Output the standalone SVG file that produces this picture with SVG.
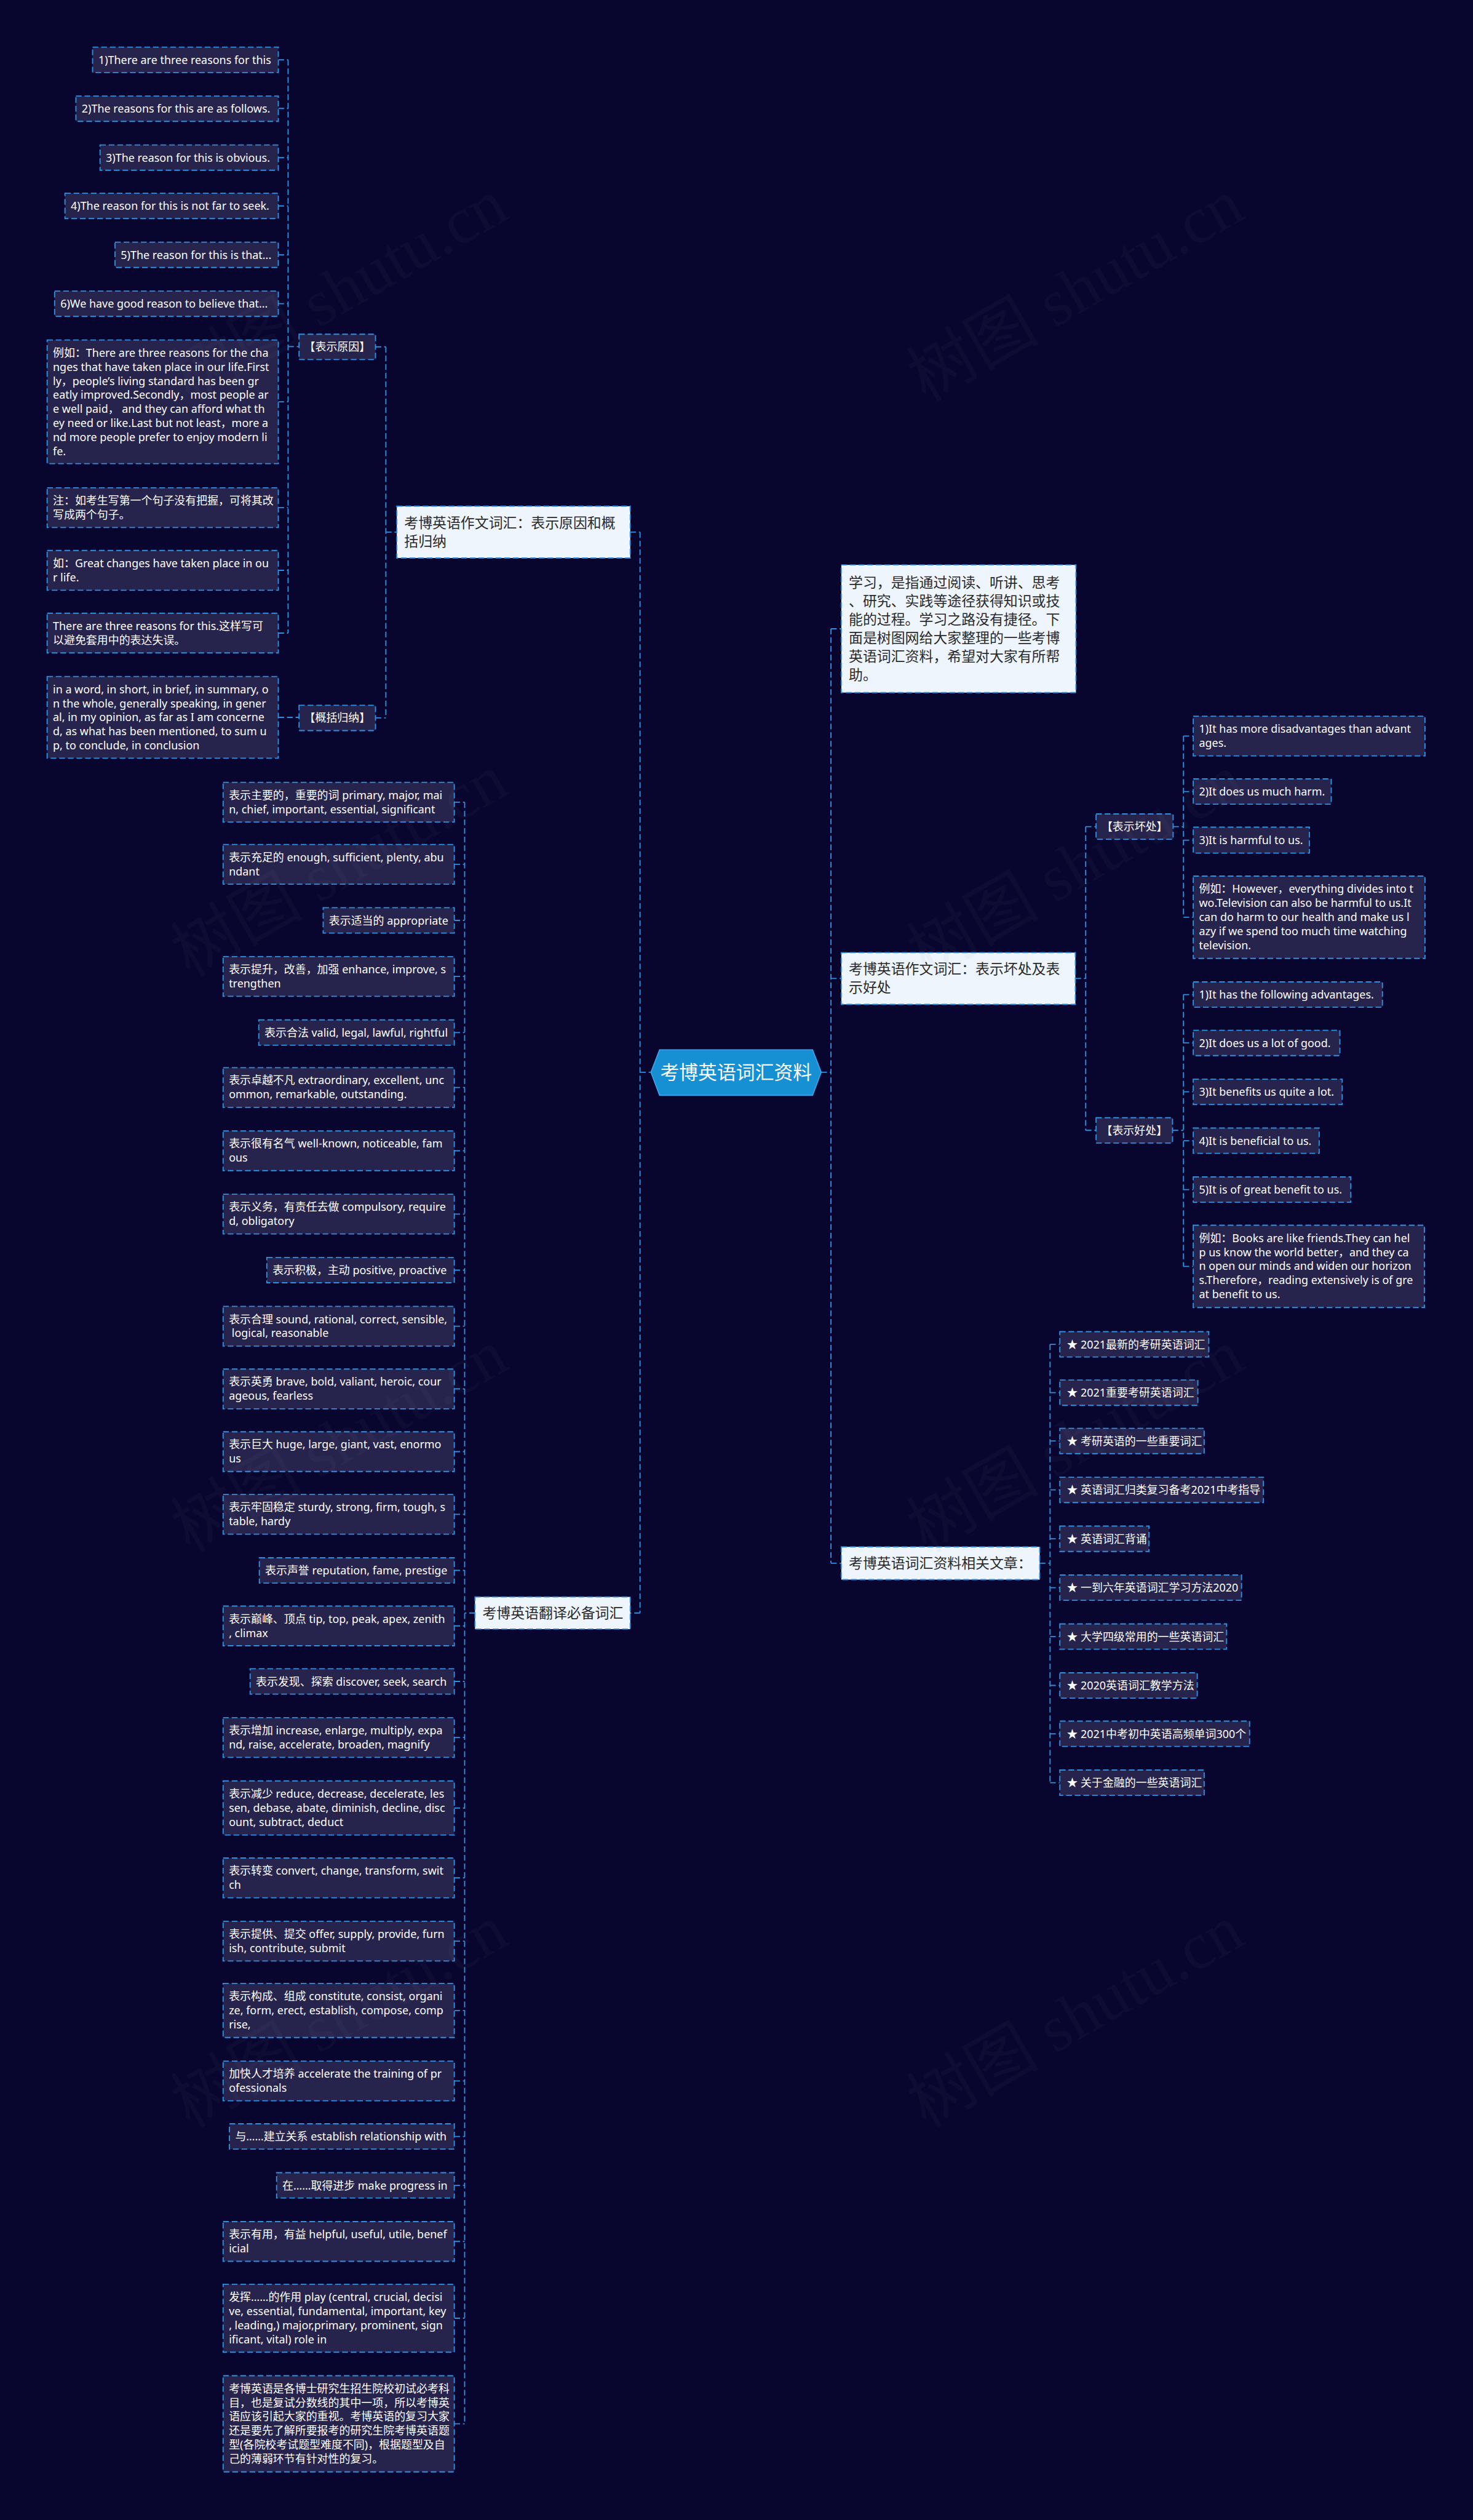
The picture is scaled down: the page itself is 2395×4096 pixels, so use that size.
<svg xmlns="http://www.w3.org/2000/svg" width="2395" height="4096" viewBox="0 0 2395 4096">
<style>
.lf{fill:#26234d;stroke:#2f8fe0;stroke-width:2;stroke-dasharray:10 5}
.br{fill:#eef5fd;stroke:#2f8fe0;stroke-width:2;stroke-dasharray:10 5}
.t{font-family:"Noto Sans","Noto Sans CJK SC",sans-serif;font-size:19.2px;fill:#ffffff}
.bt{font-family:"Noto Sans","Noto Sans CJK SC",sans-serif;font-size:24.5px;fill:#2a2a2a}
.ct{font-family:"Noto Sans","Noto Sans CJK SC",sans-serif;font-size:33px;fill:#ffffff}
.cn path{fill:none;stroke:#2f8fe0;stroke-width:2;stroke-dasharray:10 5}
.wm{font-family:"Liberation Serif","Noto Sans CJK SC",serif;font-size:115px;fill:#8a8aa0;opacity:0.05}
</style>
<rect x="0" y="0" width="2395" height="4096" fill="#08052e"/>
<g transform="scale(0.935)">
<g id="connectors" class="cn">
<path d="M484,104H501M484,188.5H501M484,274H501M484,358H501M484,443H501M484,528H501M484,698.5H501M484,882.5H501M484,991.5H501M484,1100.5H501M501,104V1100.5M501,602.5H520"/>
<path d="M484,1247H520"/>
<path d="M653,603H671M653,1248H671M671,603V1248M671,925H690"/>
<path d="M1096,925H1113M1113,925V2804M1113,1864H1132M1113,2804H1096"/>
<path d="M826,2804H808M808,1394.5V4213.5"/>
<path d="M790,1394.5H808M790,1502.5H808M790,1600H808M790,1697.5H808M790,1795H808M790,1890.5H808M790,2000.5H808M790,2110.5H808M790,2208H808M790,2305.5H808M790,2414.5H808M790,2523.5H808M790,2632.5H808M790,2730H808M790,2826.5H808M790,2923H808M790,3020.5H808M790,3143H808M790,3264.5H808M790,3374.5H808M790,3495H808M790,3617.5H808M790,3714H808M790,3799H808M790,3896.5H808M790,4030H808M790,4213.5H808"/>
<path d="M1428,1864H1445M1445,1093V2717.5M1445,1093H1463M1445,1701H1463M1445,2717.5H1463"/>
<path d="M1870,1701H1888M1888,1437V1965M1888,1437H1906M1888,1965H1906"/>
<path d="M2040,1437H2058M2058,1279.5V1594.5M2058,1279.5H2075M2058,1376H2075M2058,1460.5H2075M2058,1594.5H2075"/>
<path d="M2039,1965H2058M2058,1729V2201.5M2058,1729H2075M2058,1813H2075M2058,1898H2075M2058,1983H2075M2058,2068H2075M2058,2201.5H2075"/>
<path d="M1808,2717.5H1826M1826,2337V3099M1826,2337H1843M1826,2421H1843M1826,2505H1843M1826,2590H1843M1826,2675H1843M1826,2760H1843M1826,2845H1843M1826,2930H1843M1826,3014H1843M1826,3099H1843"/>
</g>

<g id="center">
<polygon points="1132,1864 1147,1825 1413,1825 1428,1864 1413,1904 1147,1904" fill="#168fd3" stroke="#3aa0e8" stroke-width="2"/>
<text class="ct" x="1280" y="1875.5" text-anchor="middle">考博英语词汇资料</text>
</g>

<g id="branch1">
<rect class="br" x="690" y="880" width="406" height="90"/>
<text class="bt" x="703" y="917.5">考博英语作文词汇：表示原因和概<tspan x="703" dy="32">括归纳</tspan></text>
</g>
<g id="k1"><rect class="lf" x="520" y="581" width="133" height="44"/><text class="t" x="586.5" y="610" text-anchor="middle">【表示原因】</text></g>
<g id="k2"><rect class="lf" x="520" y="1226" width="133" height="44"/><text class="t" x="586.5" y="1255" text-anchor="middle">【概括归纳】</text></g>

<g id="l1"><rect class="lf" x="161" y="82" width="323" height="44"/><text class="t" x="171" y="111">1)There are three reasons for this</text></g>
<g id="l2"><rect class="lf" x="132" y="167" width="352" height="44"/><text class="t" x="142" y="196">2)The reasons for this are as follows.</text></g>
<g id="l3"><rect class="lf" x="174" y="252" width="310" height="44"/><text class="t" x="184" y="281">3)The reason for this is obvious.</text></g>
<g id="l4"><rect class="lf" x="113" y="336" width="371" height="44"/><text class="t" x="123" y="365">4)The reason for this is not far to seek.</text></g>
<g id="l5"><rect class="lf" x="200" y="421" width="284" height="44"/><text class="t" x="210" y="450">5)The reason for this is that...</text></g>
<g id="l6"><rect class="lf" x="95" y="506" width="389" height="44"/><text class="t" x="105" y="535">6)We have good reason to believe that...</text></g>
<g id="l7"><rect class="lf" x="82" y="591" width="402" height="215"/><text class="t" x="92" y="620">例如：There are three reasons for the cha<tspan x="92" dy="24.5">nges that have taken place in our life.First</tspan><tspan x="92" dy="24.5">ly，people’s living standard has been gr</tspan><tspan x="92" dy="24.5">eatly improved.Secondly，most people ar</tspan><tspan x="92" dy="24.5">e well paid， and they can afford what th</tspan><tspan x="92" dy="24.5">ey need or like.Last but not least，more a</tspan><tspan x="92" dy="24.5">nd more people prefer to enjoy modern li</tspan><tspan x="92" dy="24.5">fe.</tspan></text></g>
<g id="l8"><rect class="lf" x="82" y="848" width="402" height="69"/><text class="t" x="92" y="877">注：如考生写第一个句子没有把握，可将其改<tspan x="92" dy="24.5">写成两个句子。</tspan></text></g>
<g id="l9"><rect class="lf" x="82" y="957" width="402" height="69"/><text class="t" x="92" y="986">如：Great changes have taken place in ou<tspan x="92" dy="24.5">r life.</tspan></text></g>
<g id="l10"><rect class="lf" x="82" y="1066" width="402" height="69"/><text class="t" x="92" y="1095">There are three reasons for this.这样写可<tspan x="92" dy="24.5">以避免套用中的表达失误。</tspan></text></g>
<g id="l11"><rect class="lf" x="82" y="1176" width="402" height="142"/><text class="t" x="92" y="1205">in a word, in short, in brief, in summary, o<tspan x="92" dy="24.5">n the whole, generally speaking, in gener</tspan><tspan x="92" dy="24.5">al, in my opinion, as far as I am concerne</tspan><tspan x="92" dy="24.5">d, as what has been mentioned, to sum u</tspan><tspan x="92" dy="24.5">p, to conclude, in conclusion</tspan></text></g>

<g id="branch4">
<rect class="br" x="826" y="2776" width="270" height="56"/>
<text class="bt" x="839" y="2812.5">考博英语翻译必备词汇</text>
</g>
<g id="m1"><rect class="lf" x="388" y="1360" width="402" height="69"/><text class="t" x="398" y="1389">表示主要的，重要的词 primary, major, mai<tspan x="398" dy="24.5">n, chief, important, essential, significant</tspan></text></g>
<g id="m2"><rect class="lf" x="388" y="1468" width="402" height="69"/><text class="t" x="398" y="1497">表示充足的 enough, sufficient, plenty, abu<tspan x="398" dy="24.5">ndant</tspan></text></g>
<g id="m3"><rect class="lf" x="562" y="1578" width="228" height="44"/><text class="t" x="572" y="1607">表示适当的 appropriate</text></g>
<g id="m4"><rect class="lf" x="388" y="1663" width="402" height="69"/><text class="t" x="398" y="1692">表示提升，改善，加强 enhance, improve, s<tspan x="398" dy="24.5">trengthen</tspan></text></g>
<g id="m5"><rect class="lf" x="450" y="1773" width="340" height="44"/><text class="t" x="460" y="1802">表示合法 valid, legal, lawful, rightful</text></g>
<g id="m6"><rect class="lf" x="388" y="1856" width="402" height="69"/><text class="t" x="398" y="1885">表示卓越不凡 extraordinary, excellent, unc<tspan x="398" dy="24.5">ommon, remarkable, outstanding.</tspan></text></g>
<g id="m7"><rect class="lf" x="388" y="1966" width="402" height="69"/><text class="t" x="398" y="1995">表示很有名气 well-known, noticeable, fam<tspan x="398" dy="24.5">ous</tspan></text></g>
<g id="m8"><rect class="lf" x="388" y="2076" width="402" height="69"/><text class="t" x="398" y="2105">表示义务，有责任去做 compulsory, require<tspan x="398" dy="24.5">d, obligatory</tspan></text></g>
<g id="m9"><rect class="lf" x="464" y="2186" width="326" height="44"/><text class="t" x="474" y="2215">表示积极，主动 positive, proactive</text></g>
<g id="m10"><rect class="lf" x="388" y="2271" width="402" height="69"/><text class="t" x="398" y="2300">表示合理 sound, rational, correct, sensible,<tspan x="398" dy="24.5"> logical, reasonable</tspan></text></g>
<g id="m11"><rect class="lf" x="388" y="2380" width="402" height="69"/><text class="t" x="398" y="2409">表示英勇 brave, bold, valiant, heroic, cour<tspan x="398" dy="24.5">ageous, fearless</tspan></text></g>
<g id="m12"><rect class="lf" x="388" y="2489" width="402" height="69"/><text class="t" x="398" y="2518">表示巨大 huge, large, giant, vast, enormo<tspan x="398" dy="24.5">us</tspan></text></g>
<g id="m13"><rect class="lf" x="388" y="2598" width="402" height="69"/><text class="t" x="398" y="2627">表示牢固稳定 sturdy, strong, firm, tough, s<tspan x="398" dy="24.5">table, hardy</tspan></text></g>
<g id="m14"><rect class="lf" x="451" y="2708" width="339" height="44"/><text class="t" x="461" y="2737">表示声誉 reputation, fame, prestige</text></g>
<g id="m15"><rect class="lf" x="388" y="2792" width="402" height="69"/><text class="t" x="398" y="2821">表示巅峰、顶点 tip, top, peak, apex, zenith<tspan x="398" dy="24.5">, climax</tspan></text></g>
<g id="m16"><rect class="lf" x="435" y="2901" width="355" height="44"/><text class="t" x="445" y="2930">表示发现、探索 discover, seek, search</text></g>
<g id="m17"><rect class="lf" x="388" y="2986" width="402" height="69"/><text class="t" x="398" y="3015">表示增加 increase, enlarge, multiply, expa<tspan x="398" dy="24.5">nd, raise, accelerate, broaden, magnify</tspan></text></g>
<g id="m18"><rect class="lf" x="388" y="3096" width="402" height="94"/><text class="t" x="398" y="3125">表示减少 reduce, decrease, decelerate, les<tspan x="398" dy="24.5">sen, debase, abate, diminish, decline, disc</tspan><tspan x="398" dy="24.5">ount, subtract, deduct</tspan></text></g>
<g id="m19"><rect class="lf" x="388" y="3230" width="402" height="69"/><text class="t" x="398" y="3259">表示转变 convert, change, transform, swit<tspan x="398" dy="24.5">ch</tspan></text></g>
<g id="m20"><rect class="lf" x="388" y="3340" width="402" height="69"/><text class="t" x="398" y="3369">表示提供、提交 offer, supply, provide, furn<tspan x="398" dy="24.5">ish, contribute, submit</tspan></text></g>
<g id="m21"><rect class="lf" x="388" y="3448" width="402" height="94"/><text class="t" x="398" y="3477">表示构成、组成 constitute, consist, organi<tspan x="398" dy="24.5">ze, form, erect, establish, compose, comp</tspan><tspan x="398" dy="24.5">rise,</tspan></text></g>
<g id="m22"><rect class="lf" x="388" y="3583" width="402" height="69"/><text class="t" x="398" y="3612">加快人才培养 accelerate the training of pr<tspan x="398" dy="24.5">ofessionals</tspan></text></g>
<g id="m23"><rect class="lf" x="399" y="3692" width="391" height="44"/><text class="t" x="409" y="3721">与……建立关系 establish relationship with</text></g>
<g id="m24"><rect class="lf" x="481" y="3777" width="309" height="44"/><text class="t" x="491" y="3806">在……取得进步 make progress in</text></g>
<g id="m25"><rect class="lf" x="388" y="3862" width="402" height="69"/><text class="t" x="398" y="3891">表示有用，有益 helpful, useful, utile, benef<tspan x="398" dy="24.5">icial</tspan></text></g>
<g id="m26"><rect class="lf" x="388" y="3971" width="402" height="118"/><text class="t" x="398" y="4000">发挥……的作用 play (central, crucial, decisi<tspan x="398" dy="24.5">ve, essential, fundamental, important, key</tspan><tspan x="398" dy="24.5">, leading,) major,primary, prominent, sign</tspan><tspan x="398" dy="24.5">ificant, vital) role in</tspan></text></g>
<g id="m27"><rect class="lf" x="388" y="4130" width="402" height="167"/><text class="t" x="398" y="4159">考博英语是各博士研究生招生院校初试必考科<tspan x="398" dy="24.5">目，也是复试分数线的其中一项，所以考博英</tspan><tspan x="398" dy="24.5">语应该引起大家的重视。考博英语的复习大家</tspan><tspan x="398" dy="24.5">还是要先了解所要报考的研究生院考博英语题</tspan><tspan x="398" dy="24.5">型(各院校考试题型难度不同)，根据题型及自</tspan><tspan x="398" dy="24.5">己的薄弱环节有针对性的复习。</tspan></text></g>

<g id="intro">
<rect class="br" x="1463" y="982" width="408" height="222"/>
<text class="bt" x="1476" y="1021.5">学习，是指通过阅读、听讲、思考<tspan x="1476" dy="32">、研究、实践等途径获得知识或技</tspan><tspan x="1476" dy="32">能的过程。学习之路没有捷径。下</tspan><tspan x="1476" dy="32">面是树图网给大家整理的一些考博</tspan><tspan x="1476" dy="32">英语词汇资料，希望对大家有所帮</tspan><tspan x="1476" dy="32">助。</tspan></text>
</g>
<g id="branch2">
<rect class="br" x="1463" y="1656" width="407" height="90"/>
<text class="bt" x="1476" y="1693.5">考博英语作文词汇：表示坏处及表<tspan x="1476" dy="32">示好处</tspan></text>
</g>
<g id="k3"><rect class="lf" x="1906" y="1415" width="134" height="44"/><text class="t" x="1973" y="1444" text-anchor="middle">【表示坏处】</text></g>
<g id="k4"><rect class="lf" x="1906" y="1943" width="133" height="44"/><text class="t" x="1972.5" y="1972" text-anchor="middle">【表示好处】</text></g>
<g id="b1"><rect class="lf" x="2075" y="1245" width="403" height="69"/><text class="t" x="2085" y="1274">1)It has more disadvantages than advant<tspan x="2085" dy="24.5">ages.</tspan></text></g>
<g id="b2"><rect class="lf" x="2075" y="1354" width="240" height="44"/><text class="t" x="2085" y="1383">2)It does us much harm.</text></g>
<g id="b3"><rect class="lf" x="2075" y="1438" width="202" height="45"/><text class="t" x="2085" y="1467.5">3)It is harmful to us.</text></g>
<g id="b4"><rect class="lf" x="2075" y="1523" width="403" height="143"/><text class="t" x="2085" y="1552">例如：However，everything divides into t<tspan x="2085" dy="24.5">wo.Television can also be harmful to us.It</tspan><tspan x="2085" dy="24.5">can do harm to our health and make us l</tspan><tspan x="2085" dy="24.5">azy if we spend too much time watching</tspan><tspan x="2085" dy="24.5">television.</tspan></text></g>
<g id="g1"><rect class="lf" x="2075" y="1707" width="329" height="44"/><text class="t" x="2085" y="1736">1)It has the following advantages.</text></g>
<g id="g2"><rect class="lf" x="2075" y="1791" width="255" height="44"/><text class="t" x="2085" y="1820">2)It does us a lot of good.</text></g>
<g id="g3"><rect class="lf" x="2075" y="1876" width="259" height="44"/><text class="t" x="2085" y="1905">3)It benefits us quite a lot.</text></g>
<g id="g4"><rect class="lf" x="2075" y="1961" width="219" height="44"/><text class="t" x="2085" y="1990">4)It is beneficial to us.</text></g>
<g id="g5"><rect class="lf" x="2075" y="2046" width="274" height="44"/><text class="t" x="2085" y="2075">5)It is of great benefit to us.</text></g>
<g id="g6"><rect class="lf" x="2075" y="2130" width="402" height="143"/><text class="t" x="2085" y="2159">例如：Books are like friends.They can hel<tspan x="2085" dy="24.5">p us know the world better，and they ca</tspan><tspan x="2085" dy="24.5">n open our minds and widen our horizon</tspan><tspan x="2085" dy="24.5">s.Therefore，reading extensively is of gre</tspan><tspan x="2085" dy="24.5">at benefit to us.</tspan></text></g>

<g id="branch3">
<rect class="br" x="1463" y="2689" width="345" height="57"/>
<text class="bt" x="1476" y="2726">考博英语词汇资料相关文章：</text>
</g>
<g id="r1"><rect class="lf" x="1843" y="2315" width="259" height="44"/><text class="t" x="1855" y="2344">★ 2021最新的考研英语词汇</text></g>
<g id="r2"><rect class="lf" x="1843" y="2399" width="240" height="44"/><text class="t" x="1855" y="2428">★ 2021重要考研英语词汇</text></g>
<g id="r3"><rect class="lf" x="1843" y="2483" width="251" height="44"/><text class="t" x="1855" y="2512">★ 考研英语的一些重要词汇</text></g>
<g id="r4"><rect class="lf" x="1843" y="2568" width="354" height="44"/><text class="t" x="1855" y="2597">★ 英语词汇归类复习备考2021中考指导</text></g>
<g id="r5"><rect class="lf" x="1843" y="2653" width="155" height="44"/><text class="t" x="1855" y="2682">★ 英语词汇背诵</text></g>
<g id="r6"><rect class="lf" x="1843" y="2738" width="316" height="44"/><text class="t" x="1855" y="2767">★ 一到六年英语词汇学习方法2020</text></g>
<g id="r7"><rect class="lf" x="1843" y="2823" width="290" height="44"/><text class="t" x="1855" y="2852">★ 大学四级常用的一些英语词汇</text></g>
<g id="r8"><rect class="lf" x="1843" y="2908" width="239" height="44"/><text class="t" x="1855" y="2937">★ 2020英语词汇教学方法</text></g>
<g id="r9"><rect class="lf" x="1843" y="2992" width="330" height="44"/><text class="t" x="1855" y="3021">★ 2021中考初中英语高频单词300个</text></g>
<g id="r10"><rect class="lf" x="1843" y="3077" width="251" height="44"/><text class="t" x="1855" y="3106">★ 关于金融的一些英语词汇</text></g>

<g id="watermarks">
<text class="wm" transform="translate(330,700) rotate(-30)">树图 shutu.cn</text>
<text class="wm" transform="translate(1610,700) rotate(-30)">树图 shutu.cn</text>
<text class="wm" transform="translate(330,1700) rotate(-30)">树图 shutu.cn</text>
<text class="wm" transform="translate(1610,1700) rotate(-30)">树图 shutu.cn</text>
<text class="wm" transform="translate(330,2700) rotate(-30)">树图 shutu.cn</text>
<text class="wm" transform="translate(1610,2700) rotate(-30)">树图 shutu.cn</text>
<text class="wm" transform="translate(330,3700) rotate(-30)">树图 shutu.cn</text>
<text class="wm" transform="translate(1610,3700) rotate(-30)">树图 shutu.cn</text>
</g>
</g>
</svg>
